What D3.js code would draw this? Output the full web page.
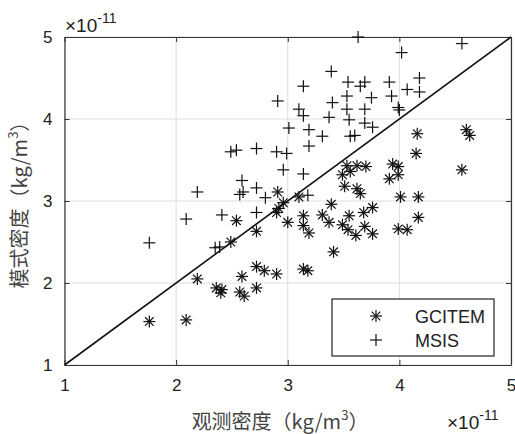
<!DOCTYPE html>
<html>
<head>
<meta charset="utf-8">
<script src="https://cdn.jsdelivr.net/npm/d3@7"></script>
<style>
body { margin: 0; background: #fff; }
text { font-family: "Liberation Sans", Arial, sans-serif; fill: #222; }
.cjk { font-family: "Noto Sans CJK SC", sans-serif; fill: #444; }
</style>
</head>
<body>
<div id="chart"></div>
<script>
// data (units of 1e-11 kg/m^3)
const gcitemObs = [1.76, 2.09, 2.19, 2.36, 2.41, 2.40, 2.49, 2.54, 2.59, 2.57, 2.61, 2.72, 2.72, 2.72, 2.79, 2.90,
    2.91, 2.92, 2.90, 2.96, 3.00, 3.10, 3.14, 3.18, 3.14, 3.14, 3.19, 3.31, 3.37, 3.39, 3.41, 3.49, 3.54, 3.55,
    3.61, 3.68, 3.76, 3.69, 3.76, 3.53, 3.56, 3.62, 3.70, 3.49, 3.51, 3.62, 3.65, 3.94, 3.99, 3.91, 3.99, 4.01,
    4.17, 4.17, 3.99, 4.07, 4.16, 4.15, 4.60, 4.63, 4.56];
const gcitemModel = [1.53, 1.55, 2.05, 1.94, 1.92, 1.88, 2.50, 2.76, 2.08, 1.89, 1.84, 1.94, 2.63, 2.20, 2.15, 2.11,
    3.11, 2.91, 2.86, 2.98, 2.74, 3.05, 2.17, 2.15, 2.82, 2.70, 2.61, 2.83, 2.74, 2.96, 2.38, 2.71, 2.65, 2.82,
    2.58, 2.86, 2.92, 2.69, 2.60, 3.43, 3.36, 3.43, 3.42, 3.32, 3.18, 3.15, 3.09, 3.45, 3.42, 3.27, 3.32, 3.05,
    3.05, 2.80, 2.66, 2.65, 3.82, 3.58, 3.87, 3.80, 3.38];

const msisObs = [1.76, 2.09, 2.19, 2.35, 2.39, 2.41, 2.49, 2.54, 2.57, 2.59, 2.60, 2.72, 2.72, 2.72, 2.80, 2.90,
    2.91, 2.96, 2.99, 3.01, 3.14, 3.18, 3.19, 3.14, 3.10, 3.14, 3.19, 3.31, 3.39, 3.40, 3.37, 3.53, 3.53, 3.54,
    3.55, 3.56, 3.60, 3.63, 3.65, 3.69, 3.69, 3.69, 3.75, 3.76, 3.91, 3.93, 3.99, 4.00, 4.02, 4.07, 4.18, 4.18,
    4.56];
const msisModel = [2.49, 2.78, 3.11, 2.43, 2.44, 2.83, 3.60, 3.62, 3.08, 3.25, 3.11, 3.64, 3.16, 2.86, 3.04, 3.60,
    4.22, 3.38, 3.58, 3.89, 3.33, 3.07, 3.67, 4.40, 4.12, 4.04, 3.87, 3.79, 4.58, 4.20, 4.02, 4.28, 4.12, 4.45,
    3.99, 3.79, 3.80, 5.00, 4.40, 4.45, 4.12, 3.95, 4.26, 3.90, 4.45, 4.28, 4.14, 4.11, 4.81, 4.36, 4.50, 4.33,
    4.92];

const ticks = [1, 2, 3, 4, 5];
const seriesNames = ["GCITEM", "MSIS"];

const gcitem = gcitemObs.map((x, i) => ({ x: x, y: gcitemModel[i] }));
const msis = msisObs.map((x, i) => ({ x: x, y: msisModel[i] }));

// margins
const margin = { top: 37, right: 4, bottom: 69, left: 64.5 };
const width = 515 - margin.left - margin.right;
const height = 434 - margin.top - margin.bottom;

const root = d3.select("#chart")
    .append("svg")
    .attr("width", 515)
    .attr("height", 434);

const svg = root.append("g")
    .attr("transform", "translate(" + margin.left + "," + margin.top + ")");

const xScale = d3.scaleLinear().domain([1, 5]).range([0, width]);
const yScale = d3.scaleLinear().domain([1, 5]).range([height, 0]);

// grid
svg.selectAll(".gx")
    .data(ticks)
    .enter().append("line")
    .attr("x1", d => xScale(d)).attr("x2", d => xScale(d))
    .attr("y1", 0).attr("y2", height)
    .attr("stroke", "#dcdcdc").attr("stroke-width", 1);

svg.selectAll(".gy")
    .data(ticks)
    .enter().append("line")
    .attr("y1", d => yScale(d)).attr("y2", d => yScale(d))
    .attr("x1", 0).attr("x2", width)
    .attr("stroke", "#dcdcdc").attr("stroke-width", 1);

// axes (ticks pointing inward like matlab)
const fmt = d3.format("d");
svg.append("g")
    .attr("transform", "translate(0," + height + ")")
    .call(d3.axisBottom(xScale).tickValues(ticks).tickFormat(fmt).tickSizeInner(-5).tickSizeOuter(0).tickPadding(14));
svg.append("g")
    .call(d3.axisLeft(yScale).tickValues(ticks).tickFormat(fmt).tickSizeInner(-5).tickSizeOuter(0).tickPadding(12));
// top / right ticks
svg.append("g").call(d3.axisTop(xScale).tickValues(ticks).tickSizeInner(-5).tickSizeOuter(0).tickFormat(""));
svg.append("g").attr("transform", "translate(" + width + ",0)")
    .call(d3.axisRight(yScale).tickValues(ticks).tickSizeInner(-5).tickSizeOuter(0).tickFormat(""));

svg.selectAll(".domain").attr("stroke", "#333").attr("stroke-width", 1.2);
svg.selectAll(".tick line").attr("stroke", "#333");
svg.selectAll(".tick text").attr("font-size", 17).attr("fill", "#222")
    .attr("font-family", null);

// diagonal y = x
svg.append("line")
    .attr("x1", xScale(1)).attr("y1", yScale(1))
    .attr("x2", xScale(5)).attr("y2", yScale(5))
    .attr("stroke", "#111").attr("stroke-width", 1.6);

// markers
const r = 6;
function plus(g) {
    g.append("line").attr("x1", -r).attr("x2", r).attr("y1", 0).attr("y2", 0);
    g.append("line").attr("y1", -r).attr("y2", r).attr("x1", 0).attr("x2", 0);
}
function star(g) {
    plus(g);
    const k = r * 0.72;
    g.append("line").attr("x1", -k).attr("y1", -k).attr("x2", k).attr("y2", k);
    g.append("line").attr("x1", -k).attr("y1", k).attr("x2", k).attr("y2", -k);
}

svg.selectAll(".gc")
    .data(gcitem)
    .enter().append("g")
    .attr("class", "gc")
    .attr("transform", d => "translate(" + xScale(d.x) + "," + yScale(d.y) + ")")
    .attr("stroke", "#111").attr("stroke-width", 1.2)
    .each(function() { star(d3.select(this)); });

svg.selectAll(".ms")
    .data(msis)
    .enter().append("g")
    .attr("class", "ms")
    .attr("transform", d => "translate(" + xScale(d.x) + "," + yScale(d.y) + ")")
    .attr("stroke", "#111").attr("stroke-width", 1.2)
    .each(function() { plus(d3.select(this)); });

// legend
const legend = svg.append("g").attr("transform", "translate(" + (332 - margin.left) + "," + (299 - margin.top) + ")");
legend.append("rect")
    .attr("width", 162).attr("height", 57)
    .attr("fill", "#fff").attr("stroke", "#222").attr("stroke-width", 1.2);
seriesNames.forEach((name, i) => {
    const row = legend.append("g").attr("transform", "translate(0," + (17 + i * 24) + ")");
    const mk = row.append("g").attr("transform", "translate(44,0)")
        .attr("stroke", "#111").attr("stroke-width", 1.2);
    if (i === 0) star(mk); else plus(mk);
    row.append("text").attr("x", 83).attr("y", 6.5).attr("font-size", 18).text(name);
});

// exponent labels
const topExp = root.append("text").attr("x", 65).attr("y", 32).attr("font-size", 19);
topExp.append("tspan").text("\u00d710");
topExp.append("tspan").attr("dy", -9).attr("font-size", 14).text("-11");

const botExp = root.append("text").attr("x", 447).attr("y", 429).attr("font-size", 19);
botExp.append("tspan").text("\u00d710");
botExp.append("tspan").attr("dy", -9).attr("font-size", 14).text("-11");

// axis titles
const xt = root.append("text").attr("class", "cjk")
    .attr("x", 280).attr("y", 429).attr("text-anchor", "middle").attr("font-size", 20);
xt.append("tspan").text("观测密度（kg/m");
xt.append("tspan").attr("dy", -9).attr("font-size", 13).text("3");
xt.append("tspan").attr("dy", 9).text("）");

const yt = root.append("text").attr("class", "cjk")
    .attr("transform", "translate(27,200) rotate(-90)")
    .attr("text-anchor", "middle").attr("font-size", 20);
yt.append("tspan").text("模式密度（kg/m");
yt.append("tspan").attr("dy", -9).attr("font-size", 13).text("3");
yt.append("tspan").attr("dy", 9).text("）");
</script>
</body>
</html>
